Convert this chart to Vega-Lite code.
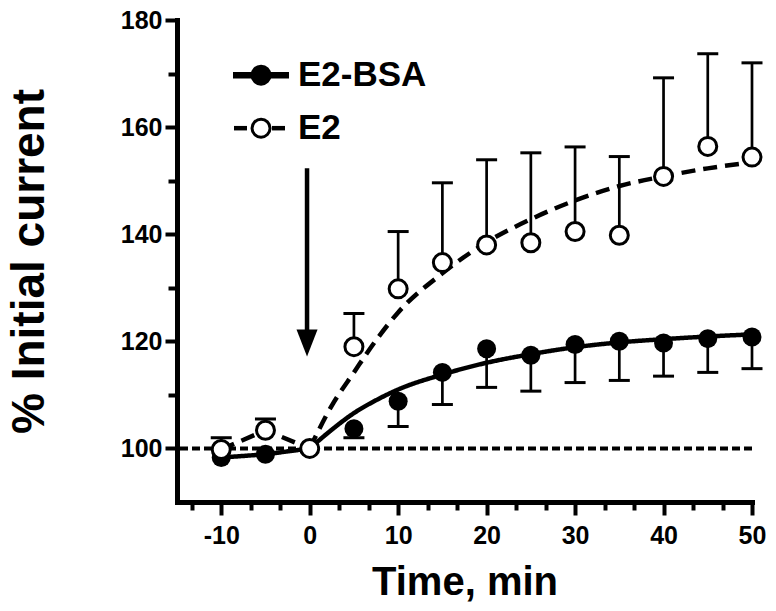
{
  "$schema": "https://vega.github.io/schema/vega-lite/v6.json",
  "width": 575,
  "height": 482,
  "autosize": {"type": "none"},
  "padding": {"left": 177, "top": 20, "right": 24, "bottom": 109},
  "background": "white",
  "resolve": {"axis": {"x": "independent"}},
  "config": {
    "view": {"stroke": null},
    "font": "Liberation Sans",
    "axis": {
      "domainColor": "black", "domainWidth": 5, "domainCap": "square",
      "tickColor": "black", "tickWidth": 4,
      "labelColor": "black", "titleColor": "black",
      "labelFont": "Liberation Sans", "titleFont": "Liberation Sans",
      "labelFontWeight": "bold", "titleFontWeight": "bold",
      "labelFontSize": 25, "grid": false, "labelOverlap": false, "labelFlush": false
    }
  },
  "datasets": {
    "pts": [
      {"series": "E2-BSA", "t": -10, "y": 98.3, "err": null},
      {"series": "E2-BSA", "t": -5, "y": 98.9, "err": null},
      {"series": "E2-BSA", "t": 0, "y": 100, "err": null},
      {"series": "E2-BSA", "t": 5, "y": 103.7, "err": 102.0},
      {"series": "E2-BSA", "t": 10, "y": 108.8, "err": 104.1},
      {"series": "E2-BSA", "t": 15, "y": 114.2, "err": 108.2},
      {"series": "E2-BSA", "t": 20, "y": 118.6, "err": 111.4},
      {"series": "E2-BSA", "t": 25, "y": 117.4, "err": 110.7},
      {"series": "E2-BSA", "t": 30, "y": 119.4, "err": 112.3},
      {"series": "E2-BSA", "t": 35, "y": 120.0, "err": 112.7},
      {"series": "E2-BSA", "t": 40, "y": 119.7, "err": 113.5},
      {"series": "E2-BSA", "t": 45, "y": 120.5, "err": 114.2},
      {"series": "E2-BSA", "t": 50, "y": 120.8, "err": 114.9},
      {"series": "E2", "t": -10, "y": 99.8, "err": 102.0},
      {"series": "E2", "t": -5, "y": 103.4, "err": 105.5},
      {"series": "E2", "t": 0, "y": 100, "err": null},
      {"series": "E2", "t": 5, "y": 119.0, "err": 125.2},
      {"series": "E2", "t": 10, "y": 129.8, "err": 140.5},
      {"series": "E2", "t": 15, "y": 134.7, "err": 149.6},
      {"series": "E2", "t": 20, "y": 138.0, "err": 153.9},
      {"series": "E2", "t": 25, "y": 138.4, "err": 155.2},
      {"series": "E2", "t": 30, "y": 140.5, "err": 156.3},
      {"series": "E2", "t": 35, "y": 139.8, "err": 154.5},
      {"series": "E2", "t": 40, "y": 150.8, "err": 169.2},
      {"series": "E2", "t": 45, "y": 156.4, "err": 173.7},
      {"series": "E2", "t": 50, "y": 154.4, "err": 172.0}
    ],
    "fit": [
      {"series": "E2-BSA", "part": "pre", "t": -10, "y": 98.3},
      {"series": "E2-BSA", "part": "pre", "t": -5, "y": 98.9},
      {"series": "E2-BSA", "part": "pre", "t": 0, "y": 100},
      {"series": "E2-BSA", "part": "fit", "t": 0, "y": 100},
      {"series": "E2-BSA", "part": "fit", "t": 2.5, "y": 103.5},
      {"series": "E2-BSA", "part": "fit", "t": 5, "y": 106.6},
      {"series": "E2-BSA", "part": "fit", "t": 7.5, "y": 109.0},
      {"series": "E2-BSA", "part": "fit", "t": 10, "y": 111.0},
      {"series": "E2-BSA", "part": "fit", "t": 15, "y": 113.8},
      {"series": "E2-BSA", "part": "fit", "t": 20, "y": 116.0},
      {"series": "E2-BSA", "part": "fit", "t": 25, "y": 117.6},
      {"series": "E2-BSA", "part": "fit", "t": 30, "y": 118.9},
      {"series": "E2-BSA", "part": "fit", "t": 35, "y": 119.8},
      {"series": "E2-BSA", "part": "fit", "t": 40, "y": 120.4},
      {"series": "E2-BSA", "part": "fit", "t": 45, "y": 120.9},
      {"series": "E2-BSA", "part": "fit", "t": 50, "y": 121.3},
      {"series": "E2", "part": "pre", "t": -10, "y": 99.8},
      {"series": "E2", "part": "pre", "t": -5, "y": 103.4},
      {"series": "E2", "part": "pre", "t": 0, "y": 100},
      {"series": "E2", "part": "fit", "t": 0, "y": 100},
      {"series": "E2", "part": "fit", "t": 2.5, "y": 108.0},
      {"series": "E2", "part": "fit", "t": 5, "y": 114.2},
      {"series": "E2", "part": "fit", "t": 7.5, "y": 120.2},
      {"series": "E2", "part": "fit", "t": 10, "y": 125.4},
      {"series": "E2", "part": "fit", "t": 15, "y": 132.7},
      {"series": "E2", "part": "fit", "t": 20, "y": 138.5},
      {"series": "E2", "part": "fit", "t": 25, "y": 142.8},
      {"series": "E2", "part": "fit", "t": 30, "y": 146.3},
      {"series": "E2", "part": "fit", "t": 35, "y": 149.0},
      {"series": "E2", "part": "fit", "t": 40, "y": 150.8},
      {"series": "E2", "part": "fit", "t": 45, "y": 152.3},
      {"series": "E2", "part": "fit", "t": 50, "y": 153.4}
    ],
    "arrow": [{"t": -0.3, "y": 152.3, "y2": 121.5, "head": 119.7}],
    "key": [
      {"series": "E2-BSA", "y": 169.7},
      {"series": "E2", "y": 159.8}
    ]
  },
  "layer": [
    {
      "data": {"values": [{"y": 100}]},
      "mark": {"type": "rule", "strokeDash": [8, 4], "strokeWidth": 4, "color": "black"},
      "encoding": {
        "y": {
          "field": "y", "type": "quantitative",
          "scale": {"domain": [90, 180], "nice": false, "zero": false},
          "axis": {
            "title": "% Initial current", "titleFontSize": 46, "titlePadding": 67,
            "values": [100, 110, 120, 130, 140, 150, 160, 170, 180],
            "labelExpr": "datum.value % 20 == 0 ? '' + datum.value : ''",
            "tickSize": {"condition": {"test": "datum.value % 20 == 0", "value": 12}, "value": 9},
            "labelPadding": 3, "domainWidth": 5, "tickWidth": 4, "labelOverlap": false
          }
        }
      }
    },
    {
      "data": {"name": "fit"},
      "transform": [{"filter": "datum.part == 'pre'"}],
      "mark": {"type": "line", "strokeWidth": 4.5, "color": "black", "interpolate": "linear"},
      "encoding": {
        "x": {
          "field": "t", "type": "quantitative",
          "scale": {"domain": [-15, 50], "nice": false, "zero": false},
          "axis": {
            "orient": "bottom",
            "title": "Time, min", "titleFontSize": 40, "titlePadding": 14,
            "values": [-10, 0, 10, 20, 30, 40, 50],
            "labelExpr": "'' + datum.value",
            "tickSize": 13,
            "labelPadding": 8, "domainWidth": 5, "tickWidth": 4,
            "labelOverlap": false, "labelFlush": false
          }
        },
        "y": {"field": "y", "type": "quantitative"},
        "detail": {"field": "series"},
        "strokeDash": {
          "field": "series", "type": "nominal",
          "scale": {"domain": ["E2-BSA", "E2"], "range": [[1, 0], [14, 8]]},
          "legend": null
        }
      }
    },
    {
      "data": {"name": "fit"},
      "transform": [{"filter": "datum.part == 'fit'"}],
      "mark": {"type": "line", "strokeWidth": 4.5, "color": "black", "interpolate": "monotone"},
      "encoding": {
        "x": {
          "field": "t", "type": "quantitative",
          "axis": {
            "orient": "bottom", "title": null, "labels": false, "domain": false, "grid": false,
            "values": [-13.333333, -6.666667, -3.333333, 3.333333, 6.666667, 13.333333, 16.666667, 23.333333, 26.666667, 33.333333, 36.666667, 43.333333, 46.666667],
            "tickSize": 8, "tickWidth": 4
          }
        },
        "y": {"field": "y", "type": "quantitative"},
        "detail": {"field": "series"},
        "strokeDash": {"field": "series", "type": "nominal", "legend": null}
      }
    },
    {
      "data": {"name": "pts"},
      "transform": [{"filter": "datum.err != null"}],
      "mark": {"type": "rule", "strokeWidth": 2.7, "color": "black"},
      "encoding": {
        "x": {"field": "t", "type": "quantitative", "axis": null},
        "y": {"field": "y", "type": "quantitative"},
        "y2": {"field": "err"}
      }
    },
    {
      "data": {"name": "pts"},
      "transform": [{"filter": "datum.err != null"}],
      "mark": {"type": "tick", "orient": "horizontal", "size": 21, "thickness": 3, "color": "black", "opacity": 1},
      "encoding": {
        "x": {"field": "t", "type": "quantitative", "axis": null},
        "y": {"field": "err", "type": "quantitative"}
      }
    },
    {
      "data": {"name": "pts"},
      "transform": [{"filter": "datum.series == 'E2-BSA'"}],
      "mark": {"type": "point", "shape": "circle", "filled": true, "fill": "black", "size": 361, "opacity": 1},
      "encoding": {
        "x": {"field": "t", "type": "quantitative", "axis": null},
        "y": {"field": "y", "type": "quantitative"}
      }
    },
    {
      "data": {"name": "pts"},
      "transform": [{"filter": "datum.series == 'E2'"}],
      "mark": {"type": "point", "shape": "circle", "filled": true, "fill": "white", "stroke": "black", "strokeWidth": 3, "size": 324, "opacity": 1},
      "encoding": {
        "x": {"field": "t", "type": "quantitative", "axis": null},
        "y": {"field": "y", "type": "quantitative"}
      }
    },
    {
      "data": {"name": "arrow"},
      "mark": {"type": "rule", "strokeWidth": 4.5, "color": "black"},
      "encoding": {
        "x": {"field": "t", "type": "quantitative", "axis": null},
        "y": {"field": "y", "type": "quantitative"},
        "y2": {"field": "y2"}
      }
    },
    {
      "data": {"name": "arrow"},
      "mark": {"type": "point", "shape": "M-0.78,-1L0.78,-1L0,1Z", "filled": true, "fill": "black", "size": 729, "opacity": 1},
      "encoding": {
        "x": {"field": "t", "type": "quantitative", "axis": null},
        "y": {"field": "head", "type": "quantitative"}
      }
    },
    {
      "data": {"name": "key"},
      "transform": [{"filter": "datum.series == 'E2-BSA'"}],
      "mark": {"type": "rule", "strokeWidth": 6.5, "color": "black"},
      "encoding": {
        "x": {"datum": -8.67, "type": "quantitative", "axis": null},
        "x2": {"datum": -2.34},
        "y": {"field": "y", "type": "quantitative"}
      }
    },
    {
      "data": {"name": "key"},
      "transform": [{"filter": "datum.series == 'E2'"}],
      "mark": {"type": "rule", "strokeWidth": 4.5, "color": "black"},
      "encoding": {
        "x": {"datum": -8.56, "type": "quantitative", "axis": null},
        "x2": {"datum": -7.09},
        "y": {"field": "y", "type": "quantitative"}
      }
    },
    {
      "data": {"name": "key"},
      "transform": [{"filter": "datum.series == 'E2'"}],
      "mark": {"type": "rule", "strokeWidth": 4.5, "color": "black"},
      "encoding": {
        "x": {"datum": -4.26, "type": "quantitative", "axis": null},
        "x2": {"datum": -2.79},
        "y": {"field": "y", "type": "quantitative"}
      }
    },
    {
      "data": {"name": "key"},
      "mark": {"type": "point", "shape": "circle", "filled": true, "stroke": "black", "strokeWidth": 3, "size": 324, "opacity": 1},
      "encoding": {
        "x": {"datum": -5.5, "type": "quantitative", "axis": null},
        "y": {"field": "y", "type": "quantitative"},
        "fill": {
          "field": "series", "type": "nominal",
          "scale": {"domain": ["E2-BSA", "E2"], "range": ["black", "white"]},
          "legend": null
        }
      }
    },
    {
      "data": {"name": "key"},
      "mark": {"type": "text", "align": "left", "baseline": "middle", "font": "Liberation Sans", "fontWeight": "bold", "fontSize": 35, "color": "black"},
      "encoding": {
        "x": {"datum": -1.32, "type": "quantitative", "axis": null},
        "y": {"field": "y", "type": "quantitative"},
        "text": {"field": "series"}
      }
    }
  ]
}
